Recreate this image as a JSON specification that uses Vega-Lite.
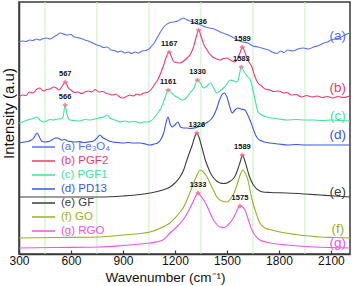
{
  "$schema": "https://vega.github.io/schema/vega-lite/v6.json",
  "width": 331,
  "height": 252,
  "autosize": {"type": "none"},
  "padding": {"left": 19, "top": 2, "right": 4, "bottom": 32},
  "config": {
    "view": {"stroke": "#3a3a3a", "strokeWidth": 1.5},
    "font": "Liberation Sans",
    "axis": {"domainColor": "#3a3a3a", "domainWidth": 1.5, "tickColor": "#3a3a3a", "labelColor": "#111", "titleColor": "#111", "titleFontWeight": "normal", "grid": false}
  },
  "datasets": {
    "grid": [{"g": 450}, {"g": 750}, {"g": 1050}, {"g": 1350}, {"g": 1650}, {"g": 1950}],
    "peaks": [
      {"x": 567, "y": 172, "t": "567"}, {"x": 1167, "y": 202, "t": "1167"}, {"x": 1336, "y": 224, "t": "1336"}, {"x": 1589, "y": 207, "t": "1589"},
      {"x": 566, "y": 149, "t": "566"}, {"x": 1161, "y": 164, "t": "1161"}, {"x": 1330, "y": 174, "t": "1330"}, {"x": 1583, "y": 187, "t": "1583"},
      {"x": 1326, "y": 121, "t": "1326"}, {"x": 1589, "y": 99, "t": "1589"},
      {"x": 1333, "y": 61, "t": "1333"}, {"x": 1575, "y": 48, "t": "1575"}
    ],
    "tags": [
      {"s": "(a) Fe₃O₄", "t": "(a)", "x": 2140, "y": 218},
      {"s": "(b) PGF2", "t": "(b)", "x": 2140, "y": 166},
      {"s": "(c) PGF1", "t": "(c)", "x": 2140, "y": 138},
      {"s": "(d) PD13", "t": "(d)", "x": 2140, "y": 119},
      {"s": "(e) GF", "t": "(e)", "x": 2140, "y": 62},
      {"s": "(f) GO", "t": "(f)", "x": 2140, "y": 25},
      {"s": "(g) RGO", "t": "(g)", "x": 2140, "y": 11}
    ],
    "spectra": [
      {"s":"(a) Fe₃O₄","x":300,"y":212},{"s":"(a) Fe₃O₄","x":320,"y":213},{"s":"(a) Fe₃O₄","x":340,"y":212.5},{"s":"(a) Fe₃O₄","x":360,"y":214},{"s":"(a) Fe₃O₄","x":380,"y":213.5},{"s":"(a) Fe₃O₄","x":400,"y":215},{"s":"(a) Fe₃O₄","x":420,"y":214},{"s":"(a) Fe₃O₄","x":440,"y":215.5},{"s":"(a) Fe₃O₄","x":460,"y":216},{"s":"(a) Fe₃O₄","x":480,"y":215},{"s":"(a) Fe₃O₄","x":500,"y":217},{"s":"(a) Fe₃O₄","x":520,"y":219},{"s":"(a) Fe₃O₄","x":537,"y":221},{"s":"(a) Fe₃O₄","x":555,"y":220},{"s":"(a) Fe₃O₄","x":575,"y":219},{"s":"(a) Fe₃O₄","x":600,"y":219.5},{"s":"(a) Fe₃O₄","x":620,"y":217},{"s":"(a) Fe₃O₄","x":650,"y":216},{"s":"(a) Fe₃O₄","x":680,"y":214},{"s":"(a) Fe₃O₄","x":700,"y":213},{"s":"(a) Fe₃O₄","x":720,"y":211.5},{"s":"(a) Fe₃O₄","x":750,"y":209},{"s":"(a) Fe₃O₄","x":770,"y":208},{"s":"(a) Fe₃O₄","x":790,"y":206.5},{"s":"(a) Fe₃O₄","x":810,"y":207},{"s":"(a) Fe₃O₄","x":830,"y":204},{"s":"(a) Fe₃O₄","x":850,"y":203.5},{"s":"(a) Fe₃O₄","x":870,"y":202},{"s":"(a) Fe₃O₄","x":890,"y":203},{"s":"(a) Fe₃O₄","x":910,"y":201},{"s":"(a) Fe₃O₄","x":930,"y":202},{"s":"(a) Fe₃O₄","x":950,"y":200.5},{"s":"(a) Fe₃O₄","x":970,"y":202},{"s":"(a) Fe₃O₄","x":990,"y":201},{"s":"(a) Fe₃O₄","x":1010,"y":203},{"s":"(a) Fe₃O₄","x":1030,"y":203.5},{"s":"(a) Fe₃O₄","x":1050,"y":205},{"s":"(a) Fe₃O₄","x":1065,"y":208},{"s":"(a) Fe₃O₄","x":1080,"y":211},{"s":"(a) Fe₃O₄","x":1100,"y":217},{"s":"(a) Fe₃O₄","x":1120,"y":223},{"s":"(a) Fe₃O₄","x":1140,"y":228},{"s":"(a) Fe₃O₄","x":1165,"y":231},{"s":"(a) Fe₃O₄","x":1190,"y":232},{"s":"(a) Fe₃O₄","x":1215,"y":233},{"s":"(a) Fe₃O₄","x":1235,"y":235},{"s":"(a) Fe₃O₄","x":1250,"y":236},{"s":"(a) Fe₃O₄","x":1265,"y":234.5},{"s":"(a) Fe₃O₄","x":1285,"y":233},{"s":"(a) Fe₃O₄","x":1305,"y":232},{"s":"(a) Fe₃O₄","x":1330,"y":230},{"s":"(a) Fe₃O₄","x":1350,"y":229},{"s":"(a) Fe₃O₄","x":1375,"y":227},{"s":"(a) Fe₃O₄","x":1400,"y":226},{"s":"(a) Fe₃O₄","x":1425,"y":225},{"s":"(a) Fe₃O₄","x":1450,"y":223},{"s":"(a) Fe₃O₄","x":1475,"y":221},{"s":"(a) Fe₃O₄","x":1500,"y":219.5},{"s":"(a) Fe₃O₄","x":1530,"y":217},{"s":"(a) Fe₃O₄","x":1560,"y":214},{"s":"(a) Fe₃O₄","x":1590,"y":212},{"s":"(a) Fe₃O₄","x":1620,"y":211},{"s":"(a) Fe₃O₄","x":1650,"y":208},{"s":"(a) Fe₃O₄","x":1680,"y":207},{"s":"(a) Fe₃O₄","x":1710,"y":205.5},{"s":"(a) Fe₃O₄","x":1740,"y":204},{"s":"(a) Fe₃O₄","x":1760,"y":202},{"s":"(a) Fe₃O₄","x":1790,"y":200.5},{"s":"(a) Fe₃O₄","x":1810,"y":203},{"s":"(a) Fe₃O₄","x":1830,"y":201.5},{"s":"(a) Fe₃O₄","x":1850,"y":204},{"s":"(a) Fe₃O₄","x":1880,"y":203},{"s":"(a) Fe₃O₄","x":1910,"y":205},{"s":"(a) Fe₃O₄","x":1940,"y":206},{"s":"(a) Fe₃O₄","x":1970,"y":205},{"s":"(a) Fe₃O₄","x":2000,"y":207},{"s":"(a) Fe₃O₄","x":2030,"y":208.5},{"s":"(a) Fe₃O₄","x":2060,"y":211},{"s":"(a) Fe₃O₄","x":2080,"y":212},{"s":"(a) Fe₃O₄","x":2100,"y":214},{"s":"(a) Fe₃O₄","x":2120,"y":215},{"s":"(a) Fe₃O₄","x":2150,"y":216},{"s":"(a) Fe₃O₄","x":2180,"y":219},{"s":"(a) Fe₃O₄","x":2210,"y":221},
      {"s":"(b) PGF2","x":300,"y":157},{"s":"(b) PGF2","x":320,"y":159},{"s":"(b) PGF2","x":340,"y":158.5},{"s":"(b) PGF2","x":360,"y":162},{"s":"(b) PGF2","x":380,"y":161},{"s":"(b) PGF2","x":404,"y":165},{"s":"(b) PGF2","x":421,"y":166},{"s":"(b) PGF2","x":440,"y":163},{"s":"(b) PGF2","x":460,"y":164.5},{"s":"(b) PGF2","x":480,"y":165},{"s":"(b) PGF2","x":500,"y":167},{"s":"(b) PGF2","x":515,"y":166},{"s":"(b) PGF2","x":530,"y":164},{"s":"(b) PGF2","x":550,"y":168},{"s":"(b) PGF2","x":567,"y":172},{"s":"(b) PGF2","x":585,"y":166},{"s":"(b) PGF2","x":600,"y":164},{"s":"(b) PGF2","x":620,"y":161.5},{"s":"(b) PGF2","x":640,"y":162},{"s":"(b) PGF2","x":660,"y":160.5},{"s":"(b) PGF2","x":680,"y":162},{"s":"(b) PGF2","x":700,"y":163},{"s":"(b) PGF2","x":720,"y":162},{"s":"(b) PGF2","x":740,"y":164.5},{"s":"(b) PGF2","x":760,"y":162},{"s":"(b) PGF2","x":785,"y":162.5},{"s":"(b) PGF2","x":800,"y":161},{"s":"(b) PGF2","x":820,"y":160},{"s":"(b) PGF2","x":840,"y":159},{"s":"(b) PGF2","x":860,"y":160},{"s":"(b) PGF2","x":880,"y":157},{"s":"(b) PGF2","x":900,"y":156},{"s":"(b) PGF2","x":920,"y":157.5},{"s":"(b) PGF2","x":940,"y":159},{"s":"(b) PGF2","x":960,"y":158},{"s":"(b) PGF2","x":980,"y":160},{"s":"(b) PGF2","x":1000,"y":159},{"s":"(b) PGF2","x":1020,"y":161},{"s":"(b) PGF2","x":1040,"y":161.5},{"s":"(b) PGF2","x":1060,"y":164},{"s":"(b) PGF2","x":1080,"y":169},{"s":"(b) PGF2","x":1100,"y":174},{"s":"(b) PGF2","x":1120,"y":182},{"s":"(b) PGF2","x":1135,"y":189},{"s":"(b) PGF2","x":1150,"y":197},{"s":"(b) PGF2","x":1167,"y":202},{"s":"(b) PGF2","x":1180,"y":197},{"s":"(b) PGF2","x":1195,"y":192},{"s":"(b) PGF2","x":1210,"y":191.5},{"s":"(b) PGF2","x":1229,"y":191},{"s":"(b) PGF2","x":1250,"y":193},{"s":"(b) PGF2","x":1270,"y":196},{"s":"(b) PGF2","x":1290,"y":200},{"s":"(b) PGF2","x":1305,"y":206},{"s":"(b) PGF2","x":1320,"y":215},{"s":"(b) PGF2","x":1336,"y":224},{"s":"(b) PGF2","x":1350,"y":218},{"s":"(b) PGF2","x":1365,"y":210},{"s":"(b) PGF2","x":1385,"y":204},{"s":"(b) PGF2","x":1400,"y":200},{"s":"(b) PGF2","x":1419,"y":197},{"s":"(b) PGF2","x":1440,"y":195},{"s":"(b) PGF2","x":1460,"y":194},{"s":"(b) PGF2","x":1480,"y":195.5},{"s":"(b) PGF2","x":1500,"y":196},{"s":"(b) PGF2","x":1520,"y":194},{"s":"(b) PGF2","x":1546,"y":192},{"s":"(b) PGF2","x":1560,"y":195},{"s":"(b) PGF2","x":1575,"y":201},{"s":"(b) PGF2","x":1589,"y":207},{"s":"(b) PGF2","x":1605,"y":201},{"s":"(b) PGF2","x":1620,"y":194},{"s":"(b) PGF2","x":1644,"y":187},{"s":"(b) PGF2","x":1660,"y":178},{"s":"(b) PGF2","x":1679,"y":171},{"s":"(b) PGF2","x":1700,"y":168},{"s":"(b) PGF2","x":1720,"y":165},{"s":"(b) PGF2","x":1748,"y":164},{"s":"(b) PGF2","x":1770,"y":162.5},{"s":"(b) PGF2","x":1800,"y":163},{"s":"(b) PGF2","x":1830,"y":161},{"s":"(b) PGF2","x":1846,"y":161.5},{"s":"(b) PGF2","x":1870,"y":159},{"s":"(b) PGF2","x":1900,"y":159.5},{"s":"(b) PGF2","x":1930,"y":157},{"s":"(b) PGF2","x":1960,"y":158.5},{"s":"(b) PGF2","x":1990,"y":157},{"s":"(b) PGF2","x":2020,"y":158},{"s":"(b) PGF2","x":2050,"y":156.5},{"s":"(b) PGF2","x":2080,"y":157.5},{"s":"(b) PGF2","x":2110,"y":156},{"s":"(b) PGF2","x":2140,"y":157.5},{"s":"(b) PGF2","x":2170,"y":156.5},{"s":"(b) PGF2","x":2210,"y":158},
      {"s":"(c) PGF1","x":300,"y":131},{"s":"(c) PGF1","x":320,"y":132},{"s":"(c) PGF1","x":340,"y":133.5},{"s":"(c) PGF1","x":370,"y":135},{"s":"(c) PGF1","x":390,"y":136},{"s":"(c) PGF1","x":404,"y":137},{"s":"(c) PGF1","x":420,"y":134},{"s":"(c) PGF1","x":440,"y":132},{"s":"(c) PGF1","x":460,"y":133},{"s":"(c) PGF1","x":480,"y":134.5},{"s":"(c) PGF1","x":500,"y":134},{"s":"(c) PGF1","x":520,"y":135},{"s":"(c) PGF1","x":540,"y":135},{"s":"(c) PGF1","x":554,"y":137},{"s":"(c) PGF1","x":566,"y":149},{"s":"(c) PGF1","x":578,"y":139},{"s":"(c) PGF1","x":594,"y":134},{"s":"(c) PGF1","x":620,"y":133.5},{"s":"(c) PGF1","x":650,"y":133},{"s":"(c) PGF1","x":680,"y":134.5},{"s":"(c) PGF1","x":710,"y":134},{"s":"(c) PGF1","x":740,"y":135},{"s":"(c) PGF1","x":760,"y":136},{"s":"(c) PGF1","x":790,"y":137},{"s":"(c) PGF1","x":808,"y":139},{"s":"(c) PGF1","x":825,"y":136},{"s":"(c) PGF1","x":845,"y":134.5},{"s":"(c) PGF1","x":870,"y":133},{"s":"(c) PGF1","x":883,"y":132},{"s":"(c) PGF1","x":910,"y":133},{"s":"(c) PGF1","x":940,"y":132},{"s":"(c) PGF1","x":970,"y":132.5},{"s":"(c) PGF1","x":1000,"y":131},{"s":"(c) PGF1","x":1020,"y":132},{"s":"(c) PGF1","x":1040,"y":132},{"s":"(c) PGF1","x":1060,"y":133},{"s":"(c) PGF1","x":1080,"y":136},{"s":"(c) PGF1","x":1100,"y":141},{"s":"(c) PGF1","x":1120,"y":146},{"s":"(c) PGF1","x":1140,"y":155},{"s":"(c) PGF1","x":1161,"y":164},{"s":"(c) PGF1","x":1180,"y":161},{"s":"(c) PGF1","x":1200,"y":158},{"s":"(c) PGF1","x":1220,"y":156},{"s":"(c) PGF1","x":1246,"y":154},{"s":"(c) PGF1","x":1265,"y":156},{"s":"(c) PGF1","x":1287,"y":161},{"s":"(c) PGF1","x":1310,"y":166},{"s":"(c) PGF1","x":1330,"y":174},{"s":"(c) PGF1","x":1350,"y":170},{"s":"(c) PGF1","x":1365,"y":166},{"s":"(c) PGF1","x":1385,"y":168},{"s":"(c) PGF1","x":1405,"y":171},{"s":"(c) PGF1","x":1420,"y":167},{"s":"(c) PGF1","x":1442,"y":161},{"s":"(c) PGF1","x":1460,"y":163},{"s":"(c) PGF1","x":1480,"y":166},{"s":"(c) PGF1","x":1500,"y":170},{"s":"(c) PGF1","x":1517,"y":174},{"s":"(c) PGF1","x":1540,"y":173},{"s":"(c) PGF1","x":1560,"y":172},{"s":"(c) PGF1","x":1570,"y":178},{"s":"(c) PGF1","x":1583,"y":187},{"s":"(c) PGF1","x":1600,"y":182},{"s":"(c) PGF1","x":1620,"y":177},{"s":"(c) PGF1","x":1635,"y":174},{"s":"(c) PGF1","x":1650,"y":164},{"s":"(c) PGF1","x":1665,"y":152},{"s":"(c) PGF1","x":1680,"y":142},{"s":"(c) PGF1","x":1700,"y":139},{"s":"(c) PGF1","x":1731,"y":137},{"s":"(c) PGF1","x":1760,"y":136},{"s":"(c) PGF1","x":1800,"y":135},{"s":"(c) PGF1","x":1846,"y":134},{"s":"(c) PGF1","x":1900,"y":134.5},{"s":"(c) PGF1","x":1950,"y":134},{"s":"(c) PGF1","x":2000,"y":134},{"s":"(c) PGF1","x":2050,"y":133.5},{"s":"(c) PGF1","x":2100,"y":134},{"s":"(c) PGF1","x":2150,"y":133.5},{"s":"(c) PGF1","x":2210,"y":133},
      {"s":"(d) PD13","x":300,"y":111},{"s":"(d) PD13","x":330,"y":112},{"s":"(d) PD13","x":360,"y":113},{"s":"(d) PD13","x":385,"y":116},{"s":"(d) PD13","x":395,"y":119},{"s":"(d) PD13","x":404,"y":121},{"s":"(d) PD13","x":415,"y":118},{"s":"(d) PD13","x":430,"y":113},{"s":"(d) PD13","x":450,"y":112},{"s":"(d) PD13","x":470,"y":112.5},{"s":"(d) PD13","x":490,"y":114},{"s":"(d) PD13","x":510,"y":116},{"s":"(d) PD13","x":525,"y":116},{"s":"(d) PD13","x":545,"y":114},{"s":"(d) PD13","x":565,"y":114.5},{"s":"(d) PD13","x":580,"y":113},{"s":"(d) PD13","x":600,"y":112.5},{"s":"(d) PD13","x":620,"y":112},{"s":"(d) PD13","x":650,"y":112.5},{"s":"(d) PD13","x":670,"y":111.5},{"s":"(d) PD13","x":700,"y":112},{"s":"(d) PD13","x":730,"y":113},{"s":"(d) PD13","x":750,"y":116},{"s":"(d) PD13","x":767,"y":119},{"s":"(d) PD13","x":785,"y":116},{"s":"(d) PD13","x":800,"y":115},{"s":"(d) PD13","x":820,"y":113},{"s":"(d) PD13","x":842,"y":112},{"s":"(d) PD13","x":870,"y":111.5},{"s":"(d) PD13","x":900,"y":111},{"s":"(d) PD13","x":930,"y":111.5},{"s":"(d) PD13","x":958,"y":111},{"s":"(d) PD13","x":1000,"y":111},{"s":"(d) PD13","x":1030,"y":110},{"s":"(d) PD13","x":1056,"y":109},{"s":"(d) PD13","x":1080,"y":110},{"s":"(d) PD13","x":1100,"y":111},{"s":"(d) PD13","x":1120,"y":115},{"s":"(d) PD13","x":1135,"y":121},{"s":"(d) PD13","x":1148,"y":131},{"s":"(d) PD13","x":1160,"y":137},{"s":"(d) PD13","x":1172,"y":130},{"s":"(d) PD13","x":1185,"y":127},{"s":"(d) PD13","x":1200,"y":129},{"s":"(d) PD13","x":1217,"y":132},{"s":"(d) PD13","x":1232,"y":127},{"s":"(d) PD13","x":1250,"y":126},{"s":"(d) PD13","x":1270,"y":126},{"s":"(d) PD13","x":1290,"y":125.5},{"s":"(d) PD13","x":1310,"y":126},{"s":"(d) PD13","x":1330,"y":127},{"s":"(d) PD13","x":1350,"y":128},{"s":"(d) PD13","x":1370,"y":130},{"s":"(d) PD13","x":1390,"y":132},{"s":"(d) PD13","x":1410,"y":135},{"s":"(d) PD13","x":1425,"y":139},{"s":"(d) PD13","x":1440,"y":145},{"s":"(d) PD13","x":1455,"y":153},{"s":"(d) PD13","x":1470,"y":159},{"s":"(d) PD13","x":1485,"y":161},{"s":"(d) PD13","x":1500,"y":157},{"s":"(d) PD13","x":1515,"y":148},{"s":"(d) PD13","x":1530,"y":141},{"s":"(d) PD13","x":1546,"y":144},{"s":"(d) PD13","x":1563,"y":146},{"s":"(d) PD13","x":1580,"y":145},{"s":"(d) PD13","x":1604,"y":144},{"s":"(d) PD13","x":1620,"y":139},{"s":"(d) PD13","x":1635,"y":133},{"s":"(d) PD13","x":1650,"y":126},{"s":"(d) PD13","x":1665,"y":119},{"s":"(d) PD13","x":1680,"y":115},{"s":"(d) PD13","x":1700,"y":113},{"s":"(d) PD13","x":1748,"y":111},{"s":"(d) PD13","x":1800,"y":110},{"s":"(d) PD13","x":1850,"y":109},{"s":"(d) PD13","x":1900,"y":109.5},{"s":"(d) PD13","x":1950,"y":109},{"s":"(d) PD13","x":2000,"y":109},{"s":"(d) PD13","x":2100,"y":109},{"s":"(d) PD13","x":2210,"y":109},
      {"s":"(e) GF","x":300,"y":57},{"s":"(e) GF","x":500,"y":57},{"s":"(e) GF","x":767,"y":57},{"s":"(e) GF","x":900,"y":58},{"s":"(e) GF","x":1000,"y":59.5},{"s":"(e) GF","x":1056,"y":61},{"s":"(e) GF","x":1130,"y":64},{"s":"(e) GF","x":1171,"y":67},{"s":"(e) GF","x":1200,"y":71},{"s":"(e) GF","x":1229,"y":77},{"s":"(e) GF","x":1250,"y":84},{"s":"(e) GF","x":1269,"y":94},{"s":"(e) GF","x":1285,"y":102},{"s":"(e) GF","x":1298,"y":108},{"s":"(e) GF","x":1312,"y":116},{"s":"(e) GF","x":1326,"y":121},{"s":"(e) GF","x":1340,"y":116},{"s":"(e) GF","x":1350,"y":110},{"s":"(e) GF","x":1361,"y":103},{"s":"(e) GF","x":1375,"y":94},{"s":"(e) GF","x":1390,"y":87},{"s":"(e) GF","x":1405,"y":81},{"s":"(e) GF","x":1419,"y":77},{"s":"(e) GF","x":1440,"y":73},{"s":"(e) GF","x":1460,"y":71},{"s":"(e) GF","x":1480,"y":70.5},{"s":"(e) GF","x":1500,"y":71},{"s":"(e) GF","x":1520,"y":73},{"s":"(e) GF","x":1535,"y":75},{"s":"(e) GF","x":1550,"y":79},{"s":"(e) GF","x":1565,"y":86},{"s":"(e) GF","x":1578,"y":93},{"s":"(e) GF","x":1589,"y":99},{"s":"(e) GF","x":1600,"y":95},{"s":"(e) GF","x":1612,"y":88},{"s":"(e) GF","x":1625,"y":80},{"s":"(e) GF","x":1640,"y":73},{"s":"(e) GF","x":1661,"y":67},{"s":"(e) GF","x":1685,"y":63.5},{"s":"(e) GF","x":1708,"y":62},{"s":"(e) GF","x":1750,"y":61.5},{"s":"(e) GF","x":1846,"y":61},{"s":"(e) GF","x":1950,"y":60},{"s":"(e) GF","x":2037,"y":59},{"s":"(e) GF","x":2120,"y":58},{"s":"(e) GF","x":2210,"y":57},
      {"s":"(f) GO","x":300,"y":16},{"s":"(f) GO","x":500,"y":16.5},{"s":"(f) GO","x":767,"y":17},{"s":"(f) GO","x":900,"y":19},{"s":"(f) GO","x":1000,"y":20.5},{"s":"(f) GO","x":1056,"y":22},{"s":"(f) GO","x":1130,"y":27},{"s":"(f) GO","x":1171,"y":31},{"s":"(f) GO","x":1200,"y":36},{"s":"(f) GO","x":1230,"y":42},{"s":"(f) GO","x":1250,"y":47},{"s":"(f) GO","x":1269,"y":54},{"s":"(f) GO","x":1290,"y":63},{"s":"(f) GO","x":1315,"y":74},{"s":"(f) GO","x":1330,"y":80},{"s":"(f) GO","x":1344,"y":84},{"s":"(f) GO","x":1360,"y":82.5},{"s":"(f) GO","x":1385,"y":77},{"s":"(f) GO","x":1410,"y":68},{"s":"(f) GO","x":1430,"y":61},{"s":"(f) GO","x":1442,"y":57},{"s":"(f) GO","x":1470,"y":53},{"s":"(f) GO","x":1500,"y":52},{"s":"(f) GO","x":1520,"y":55},{"s":"(f) GO","x":1535,"y":59},{"s":"(f) GO","x":1550,"y":65},{"s":"(f) GO","x":1563,"y":72},{"s":"(f) GO","x":1578,"y":80},{"s":"(f) GO","x":1592,"y":84},{"s":"(f) GO","x":1605,"y":81},{"s":"(f) GO","x":1621,"y":74},{"s":"(f) GO","x":1635,"y":62},{"s":"(f) GO","x":1650,"y":51},{"s":"(f) GO","x":1670,"y":40},{"s":"(f) GO","x":1690,"y":31},{"s":"(f) GO","x":1720,"y":26},{"s":"(f) GO","x":1760,"y":24},{"s":"(f) GO","x":1806,"y":22},{"s":"(f) GO","x":1900,"y":19.5},{"s":"(f) GO","x":2037,"y":17},{"s":"(f) GO","x":2120,"y":16.5},{"s":"(f) GO","x":2210,"y":16},
      {"s":"(g) RGO","x":300,"y":6},{"s":"(g) RGO","x":500,"y":6.5},{"s":"(g) RGO","x":767,"y":7},{"s":"(g) RGO","x":900,"y":8.5},{"s":"(g) RGO","x":1000,"y":10},{"s":"(g) RGO","x":1056,"y":11},{"s":"(g) RGO","x":1130,"y":14},{"s":"(g) RGO","x":1171,"y":21},{"s":"(g) RGO","x":1210,"y":27},{"s":"(g) RGO","x":1246,"y":34},{"s":"(g) RGO","x":1275,"y":42},{"s":"(g) RGO","x":1304,"y":52},{"s":"(g) RGO","x":1320,"y":58},{"s":"(g) RGO","x":1333,"y":61},{"s":"(g) RGO","x":1348,"y":58},{"s":"(g) RGO","x":1373,"y":52},{"s":"(g) RGO","x":1395,"y":44},{"s":"(g) RGO","x":1413,"y":37},{"s":"(g) RGO","x":1435,"y":31},{"s":"(g) RGO","x":1460,"y":27},{"s":"(g) RGO","x":1485,"y":26.5},{"s":"(g) RGO","x":1506,"y":29},{"s":"(g) RGO","x":1530,"y":34},{"s":"(g) RGO","x":1546,"y":39},{"s":"(g) RGO","x":1562,"y":45},{"s":"(g) RGO","x":1575,"y":48},{"s":"(g) RGO","x":1590,"y":47},{"s":"(g) RGO","x":1604,"y":44},{"s":"(g) RGO","x":1620,"y":36},{"s":"(g) RGO","x":1644,"y":24},{"s":"(g) RGO","x":1665,"y":18},{"s":"(g) RGO","x":1690,"y":14},{"s":"(g) RGO","x":1750,"y":11},{"s":"(g) RGO","x":1846,"y":9},{"s":"(g) RGO","x":2000,"y":7},{"s":"(g) RGO","x":2210,"y":6}
    ]
  },
  "layer": [
    {
      "data": {"name": "grid"},
      "mark": {"type": "rule", "color": "#c4f0bf", "strokeWidth": 1},
      "encoding": {
        "x": {"field": "g", "type": "quantitative", "scale": {"domain": [300, 2210], "nice": false, "zero": false},
          "axis": {"values": [300,450,600,750,900,1050,1200,1350,1500,1650,1800,1950,2100], "labelExpr": "datum.value % 300 === 0 ? datum.label : ''", "format": "d", "tickSize": -4, "tickWidth": 1.2, "labelFontSize": 12, "labelPadding": 5, "labelFlush": false, "labelOverlap": false, "title": "Wavenumber (cm⁻¹)", "titleFontSize": 13.5, "titleX": 146, "titleY": 27, "titleBaseline": "alphabetic"}}
      }
    },
    {
      "data": {"name": "spectra"},
      "mark": {"type": "line", "strokeWidth": 1.1, "interpolate": "monotone"},
      "encoding": {
        "x": {"field": "x", "type": "quantitative"},
        "y": {"field": "y", "type": "quantitative", "scale": {"domain": [0, 252], "nice": false},
          "axis": {"labels": false, "ticks": false, "title": "Intensity (a.u)", "titleFontSize": 15, "titleX": -3, "titleY": 111}},
        "color": {"field": "s", "type": "nominal",
          "scale": {"domain": ["(a) Fe₃O₄", "(b) PGF2", "(c) PGF1", "(d) PD13", "(e) GF", "(f) GO", "(g) RGO"],
                    "range": ["#5a72f2", "#f2386a", "#3ee39a", "#3a55e8", "#3c3c3c", "#9bb020", "#f052ea"]},
          "legend": {"orient": "none", "legendX": 12, "legendY": 138, "title": null, "symbolType": "stroke", "symbolSize": 530, "symbolStrokeWidth": 1.5, "labelFontSize": 11.5, "labelFont": "Liberation Sans", "rowPadding": 0, "clipHeight": 14, "labelOffset": 5, "padding": 0,
            "encode": {"labels": {"update": {"fill": {"scale": "color", "field": "value"}}}}}}
      }
    },
    {
      "data": {"name": "peaks"},
      "mark": {"type": "point", "shape": "cross", "filled": true, "size": 22, "color": "#ff5f8a"},
      "encoding": {
        "x": {"field": "x", "type": "quantitative"},
        "y": {"field": "y", "type": "quantitative"}
      }
    },
    {
      "data": {"name": "peaks"},
      "mark": {"type": "text", "fontSize": 7.5, "fontWeight": "bold", "dy": -8, "color": "#111", "font": "Liberation Sans"},
      "encoding": {
        "x": {"field": "x", "type": "quantitative"},
        "y": {"field": "y", "type": "quantitative"},
        "text": {"field": "t"}
      }
    },
    {
      "data": {"name": "tags"},
      "mark": {"type": "text", "fontSize": 13.5, "font": "Liberation Sans"},
      "encoding": {
        "x": {"field": "x", "type": "quantitative"},
        "y": {"field": "y", "type": "quantitative"},
        "text": {"field": "t"},
        "color": {"field": "s", "type": "nominal", "legend": null}
      }
    }
  ]
}
